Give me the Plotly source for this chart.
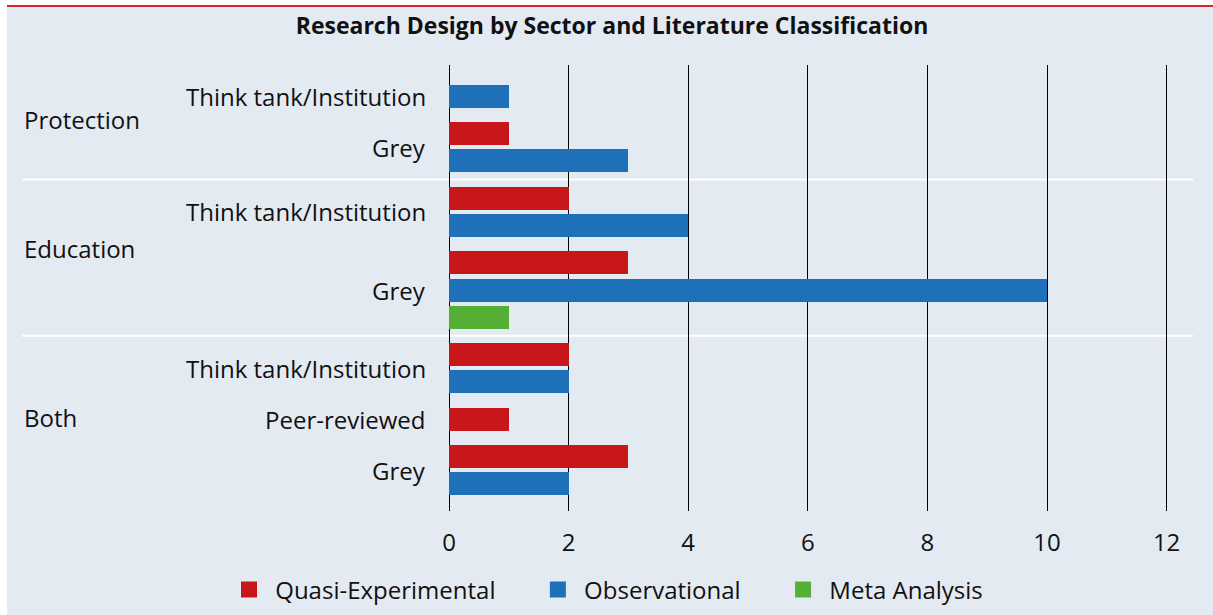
import plotly.graph_objects as go

# ---------------- data ----------------
sector = ["Protection", "Protection", "Protection",
          "Education", "Education", "Education", "Education", "Education",
          "Both", "Both", "Both", "Both", "Both"]
classification = ["Think tank/Institution", "Grey", "Grey",
                  "Think tank/Institution", "Think tank/Institution", "Grey", "Grey", "Grey",
                  "Think tank/Institution", "Think tank/Institution", "Peer-reviewed", "Grey", "Grey"]
design = ["Observational", "Quasi-Experimental", "Observational",
          "Quasi-Experimental", "Observational", "Quasi-Experimental", "Observational", "Meta Analysis",
          "Quasi-Experimental", "Observational", "Quasi-Experimental", "Quasi-Experimental", "Observational"]
count = [1, 1, 3,
         2, 4, 3, 10, 1,
         2, 2, 1, 3, 2]

designs = ["Quasi-Experimental", "Observational", "Meta Analysis"]
design_colors = {"Quasi-Experimental": "#C8161B",
                 "Observational": "#1E71B8",
                 "Meta Analysis": "#54B034"}
x_ticks = [0, 2, 4, 6, 8, 10, 12]
title_text = "Research Design by Sector and Literature Classification"

# ---------------- layout constants ----------------
W, H = 1213, 615
ML, MR, MT, MB = 449, 20, 65, 104
PW = W - ML - MR
PH = H - MT - MB
SUBGAP = 0.39          # extra space between sub-groups
BG = "#E4EAF1"
FONT = "Open Sans"
FS = 24

def px_to_paper_x(px):
    return (px - ML) / PW

def px_to_paper_y(py):
    return (H - MB - py) / PH

# row positions derived from the category structure
pos = []
p = 0.0
prev = None
for s, c in zip(sector, classification):
    key = (s, c)
    if prev is not None:
        p += 1.0 if key == prev else 1.0 + SUBGAP
    pos.append(p)
    prev = key

fig = go.Figure()
for d in designs:
    idx = [i for i in range(len(design)) if design[i] == d]
    fig.add_trace(go.Bar(
        x=[count[i] for i in idx], y=[pos[i] for i in idx],
        orientation="h", width=0.85, name=d, legendgroup=d,
        marker=dict(color=design_colors[d], line=dict(width=0)),
        showlegend=False, hoverinfo="x+name"))
pad = {"Quasi-Experimental": 6, "Observational": 6, "Meta Analysis": 0}
for d in designs:
    fig.add_trace(go.Scatter(
        x=[None], y=[None], mode="markers", legendgroup=d,
        name="\u00a0" + d + "\u00a0" * pad[d],
        marker=dict(symbol="square", size=16, color=design_colors[d])))

# labels
annotations = []
keys = []
for s, c in zip(sector, classification):
    if (s, c) not in keys:
        keys.append((s, c))
sub_pos = {}
for k in keys:
    ps = [pos[i] for i in range(len(pos)) if (sector[i], classification[i]) == k]
    sub_pos[k] = sum(ps) / len(ps)
    annotations.append(dict(x=px_to_paper_x(428), xref="paper", y=sub_pos[k], yref="y",
                            text=k[1], showarrow=False, xanchor="right", yanchor="middle",
                            font=dict(family=FONT, size=FS, color="#111111")))
sectors_order = []
for s in sector:
    if s not in sectors_order:
        sectors_order.append(s)
for s in sectors_order:
    ps = [sub_pos[k] for k in keys if k[0] == s]
    annotations.append(dict(x=px_to_paper_x(22), xref="paper", y=sum(ps) / len(ps), yref="y",
                            text=s, showarrow=False, xanchor="left", yanchor="middle",
                            yshift=2,
                            font=dict(family=FONT, size=FS, color="#111111")))

shapes = [
    dict(type="rect", xref="paper", yref="paper",
         x0=px_to_paper_x(7), x1=px_to_paper_x(W + 60),
         y0=px_to_paper_y(H + 60), y1=px_to_paper_y(7),
         fillcolor=BG, line=dict(width=0), layer="below"),
    dict(type="line", xref="paper", yref="paper",
         x0=px_to_paper_x(7), x1=px_to_paper_x(W + 60),
         y0=px_to_paper_y(6), y1=px_to_paper_y(6),
         line=dict(color="#D7262B", width=2), layer="below"),
]
for i in range(1, len(sector)):
    if sector[i] != sector[i - 1]:
        ym = (pos[i] + pos[i - 1]) / 2
        shapes.append(dict(type="line", xref="paper", yref="y",
                           x0=px_to_paper_x(22), x1=1, y0=ym, y1=ym,
                           line=dict(color="white", width=2), layer="below"))

fig.update_layout(
    width=W, height=H,
    margin=dict(l=ML, r=MR, t=MT, b=MB, pad=0, autoexpand=False),
    paper_bgcolor="white", plot_bgcolor="rgba(0,0,0,0)",
    font=dict(family=FONT, size=FS, color="#111111"),
    title=dict(text="<b>" + title_text + "</b>", x=612 / W, xref="container", xanchor="center",
               y=1 - 26 / H, yref="container", yanchor="middle",
               font=dict(family=FONT, size=23, color="#111111")),
    xaxis=dict(range=[0, PW / 59.8], tickmode="array", tickvals=x_ticks,
               ticktext=[str(t) for t in x_ticks],
               showgrid=True, gridcolor="black", gridwidth=1,
               zeroline=True, zerolinecolor="black", zerolinewidth=1,
               showline=False, ticks="", ticklabelstandoff=15, automargin=False,
               tickfont=dict(family=FONT, size=FS, color="#111111"), fixedrange=True),
    yaxis=dict(range=[pos[-1] + 1.0, pos[0] - 1.15], showticklabels=False, showgrid=False,
               zeroline=False, showline=False, ticks="", fixedrange=True, automargin=False),
    showlegend=True,
    legend=dict(orientation="h", x=px_to_paper_x(229), xanchor="left",
                y=px_to_paper_y(590), yanchor="middle", bgcolor="rgba(0,0,0,0)",
                font=dict(family=FONT, size=FS, color="#111111")),
    annotations=annotations, shapes=shapes,
    bargap=0,
)

fig.write_html("out.html", config={"displayModeBar": False},
               post_script="document.body.style.margin='0';")
